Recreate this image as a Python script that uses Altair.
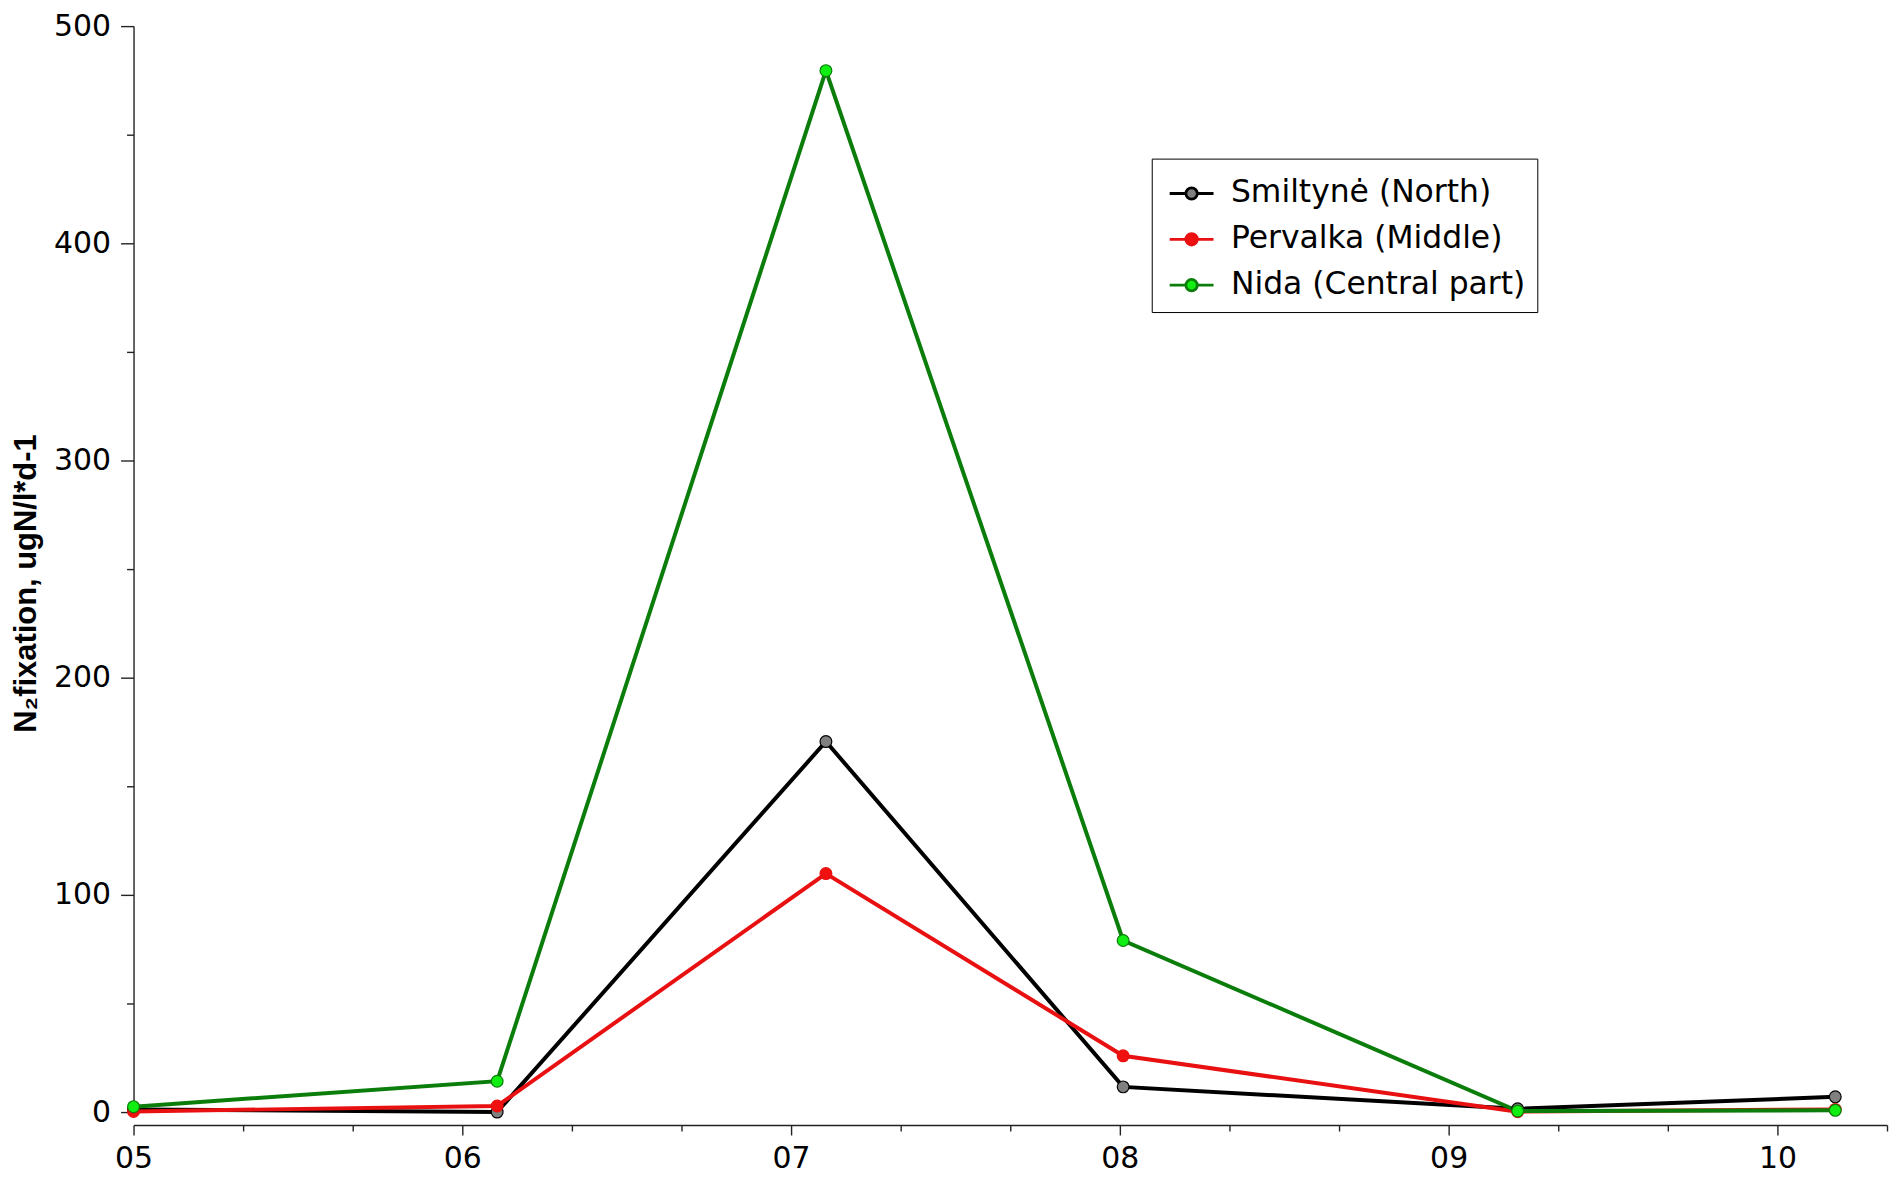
import altair as alt
import pandas as pd

# ---- data ----
SERIES = ["Smiltynė (North)", "Pervalka (Middle)", "Nida (Central part)"]
MONTH_POS = [5.0, 6.106, 7.106, 8.01, 9.21, 10.176]   # sampling times (month number)
SMILTYNE = [1.2, 0.0, 170.6, 11.6, 1.5, 7.0]
PERVALKA = [0.3, 2.8, 109.8, 25.9, 0.2, 1.2]
NIDA = [2.5, 14.2, 479.5, 79.0, 0.5, 0.8]

LINE_COLORS = ["#000000", "#e81010", "#0b7d0b"]
MARKER_COLORS = ["#808080", "#f01010", "#11ee11"]

X_TICKS = [5, 5.3333, 5.6667, 6, 6.3333, 6.6667, 7, 7.3333, 7.6667, 8, 8.3333, 8.6667,
           9, 9.3333, 9.6667, 10, 10.3333]
Y_TICKS = [0, 50, 100, 150, 200, 250, 300, 350, 400, 450, 500]

rows = []
for name, vals in zip(SERIES, [SMILTYNE, PERVALKA, NIDA]):
    for i, (m, v) in enumerate(zip(MONTH_POS, vals)):
        rows.append({"series": name, "month": m, "value": v, "order": i})
df = pd.DataFrame(rows)

W, H = 1760, 1090

x_enc = alt.X(
    "month:Q",
    scale=alt.Scale(domain=[5, 10.3334], nice=False, zero=False),
    axis=alt.Axis(
        values=X_TICKS, title=None, offset=13, grid=False,
        labelExpr="abs(datum.value - round(datum.value)) > 0.01 ? '' : (datum.value < 10 ? '0' : '') + round(datum.value)",
        tickSize={"condition": {"test": "abs(datum.value - round(datum.value)) > 0.01", "value": 6}, "value": 10},
        labelFlush=False, labelOverlap=False, labelPadding=9,
        labelFont="DejaVu Sans", labelFontSize=30, labelColor="#000000",
        domainColor="#222222", tickColor="#222222", domainWidth=1.4, tickWidth=1.4,
    ),
)
y_enc = alt.Y(
    "value:Q",
    scale=alt.Scale(domain=[0, 500], nice=False),
    axis=alt.Axis(
        values=Y_TICKS, grid=False,
        title="N₂fixation, ugN/l*d-1",
        labelExpr="datum.value % 100 == 0 ? datum.label : ''",
        tickSize={"condition": {"test": "datum.value % 100 != 0", "value": 7}, "value": 13},
        labelOverlap=False, labelPadding=10,
        labelFont="DejaVu Sans", labelFontSize=30, labelColor="#000000",
        titleFont="Liberation Sans", titleFontSize=31, titleFontWeight="bold", titleColor="#000000",
        titleX=-107, titleY=559, titleAngle=270, titleAlign="center", titleBaseline="middle",
        domainColor="#222222", tickColor="#222222", domainWidth=1.4, tickWidth=1.4,
    ),
)

legend_path = "M-1,0L-0.26,0M0.26,0L1,0M0.26,0A0.26,0.26,0,1,1,-0.26,0A0.26,0.26,0,1,1,0.26,0Z"
legend_def = alt.Legend(
    title=None, orient="none", legendX=1022, legendY=133,
    symbolType=legend_path, symbolSize=1936, symbolStrokeWidth=2.8, symbolOffset=5,
    labelFont="DejaVu Sans", labelFontSize=31.5, labelColor="#000000", labelOffset=16,
    labelExpr="datum.label + '\u2002'",
    rowPadding=7, padding=11.5, strokeColor="#000000", fillColor="#ffffff",
    cornerRadius=0, labelLimit=500,
)

base = alt.Chart(df)

# line colours: same mapping, domain listed in reverse order so that this
# (legend-less) scale is not merged with the legend of the markers
lines = base.mark_line(strokeWidth=4).encode(
    x=x_enc, y=y_enc,
    color=alt.Color("series:N",
                    scale=alt.Scale(domain=SERIES[::-1], range=LINE_COLORS[::-1]),
                    legend=None),
    order="order:Q",
)

points = base.mark_point(filled=True, size=140, opacity=1).encode(
    x=x_enc, y=y_enc,
    fill=alt.Fill("series:N", scale=alt.Scale(domain=SERIES, range=MARKER_COLORS), legend=legend_def),
    stroke=alt.Stroke("series:N", scale=alt.Scale(domain=SERIES, range=LINE_COLORS), legend=legend_def),
    strokeWidth=alt.value(1.2),
)

chart = alt.layer(lines, points).properties(
    width=W, height=H,
    autosize=alt.AutoSizeParams(type="none"),
    padding={"left": 126, "top": 16, "right": 2, "bottom": 64},
    background="#ffffff",
).configure_view(stroke=None)

chart.save("out.html", embed_options={"renderer": "svg", "actions": False})
